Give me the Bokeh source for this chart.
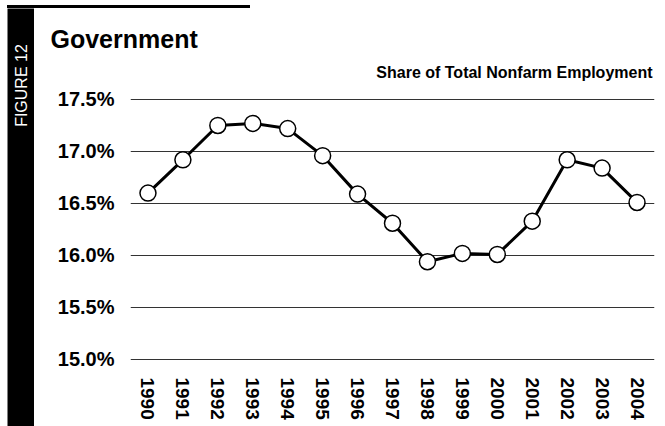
import math
from bokeh.plotting import figure
from bokeh.models import (FactorRange, Range1d, FixedTicker, PrintfTickFormatter,
                          ColumnDataSource, Title, Spacer)
from bokeh.layouts import row, column
from bokeh.embed import file_html
from bokeh.resources import INLINE

years = ["1990", "1991", "1992", "1993", "1994", "1995", "1996", "1997",
         "1998", "1999", "2000", "2001", "2002", "2003", "2004"]
share = [16.60, 16.92, 17.25, 17.27, 17.22, 16.96, 16.59, 16.31,
         15.94, 16.02, 16.01, 16.33, 16.92, 16.84, 16.51]
y_ticks = [15.0, 15.5, 16.0, 16.5, 17.0, 17.5]

FONT = "Liberation Sans"


def blank(width, height, bg="white"):
    f = figure(width=width, height=height, x_range=Range1d(0, width),
               y_range=Range1d(height, 0), x_axis_location=None,
               y_axis_location=None, min_border=0, output_backend="svg",
               toolbar_location=None, frame_align=False)
    f.grid.visible = False
    f.outline_line_color = None
    f.background_fill_color = bg
    f.border_fill_color = bg
    return f


# top rule
rule = Spacer(width=243, height=3, styles={"background-color": "black"})

# left black band with rotated label
band = blank(27, 418, bg="black")
band.text(x=[13.5], y=[77], text=["FIGURE 12"], angle=math.pi / 2,
          text_align="center", text_baseline="middle", text_color="white",
          text_font_size="16px", text_font={"value": FONT})

# main chart
src = ColumnDataSource(data=dict(year=years, share=share))
p = figure(x_range=FactorRange(*years, range_padding=0),
           y_range=Range1d(14.894, 17.596),
           frame_width=524, frame_height=281,
           min_border_left=96, min_border_right=5,
           min_border_top=81, min_border_bottom=48,
           output_backend="svg", toolbar_location=None, frame_align=False)
p.outline_line_color = None
p.background_fill_color = "white"
p.border_fill_color = "white"

p.add_layout(Title(text="Share of Total Nonfarm Employment", align="right",
                   offset=2, standoff=18, text_font=FONT,
                   text_font_style="bold", text_font_size="16px",
                   text_color="black"), "above")
p.add_layout(Title(text="Government", align="left", offset=-80, standoff=0,
                   text_font=FONT, text_font_style="bold",
                   text_font_size="25px", text_color="black"), "above")

p.line("year", "share", source=src, line_color="black", line_width=3)
p.scatter("year", "share", source=src, size=16, fill_color="white",
          line_color="black", line_width=1.5)

p.yaxis.ticker = FixedTicker(ticks=y_ticks)
p.yaxis.formatter = PrintfTickFormatter(format="%.1f%%")
for ax in (p.xaxis[0], p.yaxis[0]):
    ax.axis_line_color = None
    ax.major_tick_line_color = None
    ax.minor_tick_line_color = None
    ax.major_tick_out = 0
    ax.major_tick_in = 0
    ax.minor_tick_out = 0
    ax.major_label_text_font = FONT
    ax.major_label_text_font_style = "bold"
    ax.major_label_text_color = "black"
p.yaxis.major_label_text_font_size = "20px"
p.xaxis.major_label_text_font_size = "19px"
p.yaxis.major_label_standoff = 16
p.xaxis.major_label_standoff = 7
p.xaxis.major_label_orientation = -math.pi / 2

p.xgrid.grid_line_color = None
p.ygrid.ticker = FixedTicker(ticks=y_ticks)
p.ygrid.grid_line_color = "#333333"
p.ygrid.grid_line_width = 1.2

layout = column(rule, row(band, p, spacing=0),
                spacing=0, margin=(5, 0, 0, 7))

open("out.html", "w").write(file_html(layout, INLINE))
